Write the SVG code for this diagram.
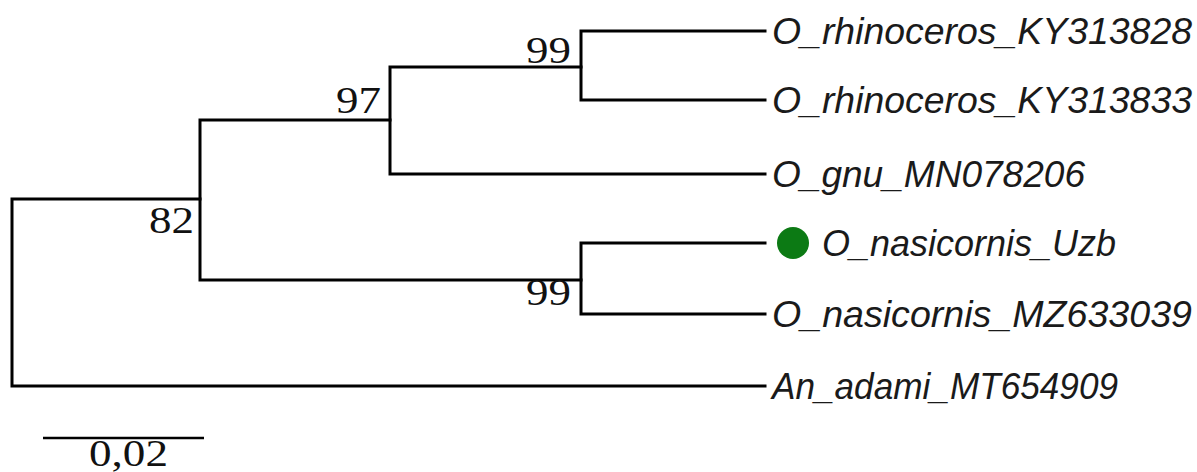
<svg xmlns="http://www.w3.org/2000/svg" width="1197" height="472" viewBox="0 0 1197 472">
<style>
.br{stroke:#000;stroke-width:3;fill:none;stroke-linecap:square}
.lf{font-family:"Liberation Sans",Arial,sans-serif;font-style:italic;font-size:37px;fill:#1a1a1a}
.bs{font-family:"Liberation Serif","Times New Roman",serif;font-size:38px;fill:#111;text-anchor:end}
</style>
<rect width="1197" height="472" fill="#fff"/>
<g id="connectors">
<path class="br" d="M12,199 V386 M12,199 H200 M12,386 H765"/>
<path class="br" d="M200,120 V280 M200,120 H390 M200,280 H581"/>
<path class="br" d="M390,67 V174 M390,67 H581 M390,174 H765"/>
<path class="br" d="M581,31 V100 M581,31 H765 M581,100 H765"/>
<path class="br" d="M581,243 V314 M581,243 H765 M581,314 H765"/>
</g>
<g id="node82"><text class="bs" x="194" y="233" textLength="45" lengthAdjust="spacingAndGlyphs">82</text></g>
<g id="node97"><text class="bs" x="381" y="113" textLength="45" lengthAdjust="spacingAndGlyphs">97</text></g>
<g id="node99a"><text class="bs" x="571" y="63" textLength="45" lengthAdjust="spacingAndGlyphs">99</text></g>
<g id="node99b"><text class="bs" x="571" y="305" textLength="45" lengthAdjust="spacingAndGlyphs">99</text></g>
<g id="leaf1"><text class="lf" x="772" y="44" textLength="420" lengthAdjust="spacingAndGlyphs">O_rhinoceros_KY313828</text></g>
<g id="leaf2"><text class="lf" x="772" y="113" textLength="420" lengthAdjust="spacingAndGlyphs">O_rhinoceros_KY313833</text></g>
<g id="leaf3"><text class="lf" x="772" y="187" textLength="313" lengthAdjust="spacingAndGlyphs">O_gnu_MN078206</text></g>
<g id="leaf4"><circle cx="793" cy="243" r="16" fill="#0c7a14"/><text class="lf" x="822" y="256" textLength="294" lengthAdjust="spacingAndGlyphs">O_nasicornis_Uzb</text></g>
<g id="leaf5"><text class="lf" x="772" y="327" textLength="420" lengthAdjust="spacingAndGlyphs">O_nasicornis_MZ633039</text></g>
<g id="leaf6"><text class="lf" x="772" y="399" textLength="346" lengthAdjust="spacingAndGlyphs">An_adami_MT654909</text></g>
<g id="scalebar">
<line x1="43" y1="438" x2="204" y2="438" stroke="#000" stroke-width="2.5"/>
<text class="bs" x="168" y="466" textLength="79" lengthAdjust="spacingAndGlyphs">0,02</text>
</g>
</svg>
